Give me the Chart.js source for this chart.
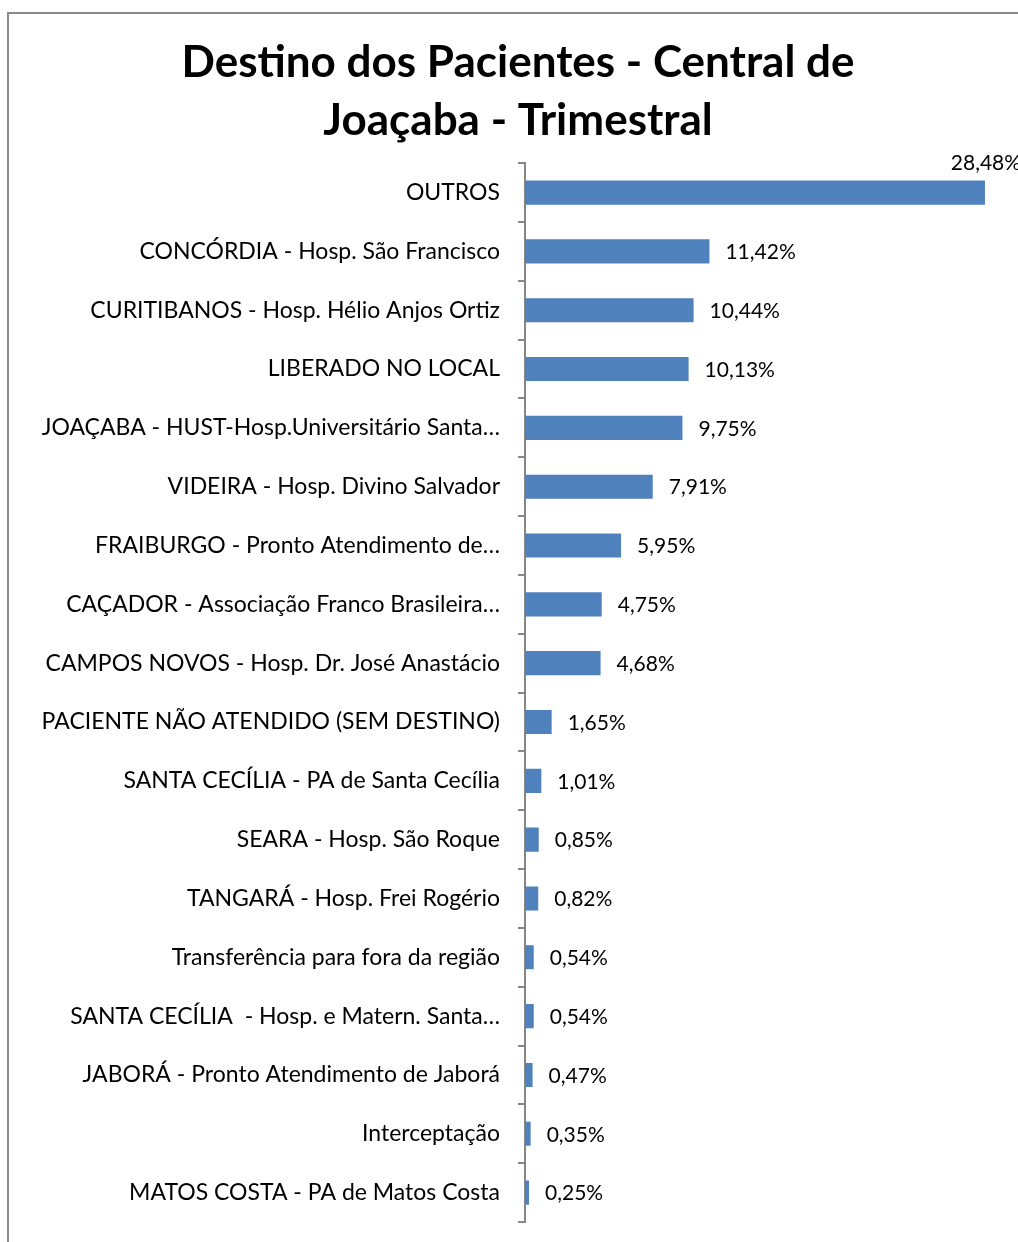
<!DOCTYPE html>
<html>
<head>
<meta charset="utf-8">
<script src="https://cdn.jsdelivr.net/npm/chart.js@4"></script>
<style>
  html, body { margin: 0; padding: 0; background: #fff; overflow: hidden; }
  #wrap { width: 1036px; height: 1242px; }
</style>
</head>
<body>
<div id="wrap"><canvas id="destinoChart" width="1036" height="1242"></canvas></div>
<script>
const destinos = [
    "OUTROS",
    "CONCÓRDIA - Hosp. São Francisco",
    "CURITIBANOS - Hosp. Hélio Anjos Ortiz",
    "LIBERADO NO LOCAL",
    "JOAÇABA - HUST-Hosp.Universitário Santa…",
    "VIDEIRA - Hosp. Divino Salvador",
    "FRAIBURGO - Pronto Atendimento de…",
    "CAÇADOR - Associação Franco Brasileira…",
    "CAMPOS NOVOS - Hosp. Dr. José Anastácio",
    "PACIENTE NÃO ATENDIDO (SEM DESTINO)",
    "SANTA CECÍLIA - PA de Santa Cecília",
    "SEARA - Hosp. São Roque",
    "TANGARÁ - Hosp. Frei Rogério",
    "Transferência para fora da região",
    "SANTA CECÍLIA  - Hosp. e Matern. Santa…",
    "JABORÁ - Pronto Atendimento de Jaborá",
    "Interceptação",
    "MATOS COSTA - PA de Matos Costa"
];
const percentuais = [28.48, 11.42, 10.44, 10.13, 9.75, 7.91, 5.95, 4.75, 4.68, 1.65, 1.01, 0.85, 0.82, 0.54, 0.54, 0.47, 0.35, 0.25];
const titulo = ["Destino dos Pacientes - Central de", "Joaçaba - Trimestral"];

const fmt = v => v.toFixed(2).replace(".", ",") + "%";

// frame around the chart (right/bottom fall outside the picture)
const framePlugin = {
    id: "frame",
    beforeDraw(chart) {
        const ctx = chart.ctx;
        ctx.save();
        ctx.strokeStyle = "#898989";
        ctx.lineWidth = 2;
        ctx.strokeRect(8, 13, 1020, 1250);
        ctx.restore();
    }
};

// value labels at the end of the bars
const valuePlugin = {
    id: "values",
    afterDatasetsDraw(chart) {
        const ctx = chart.ctx;
        const meta = chart.getDatasetMeta(0);
        ctx.save();
        ctx.font = "21px Lato";
        ctx.fillStyle = "#000";
        ctx.textBaseline = "middle";
        meta.data.forEach((bar, i) => {
            const txt = fmt(percentuais[i]);
            const w = ctx.measureText(txt).width;
            if (bar.x + 16 + w > chart.chartArea.right) {
                ctx.textAlign = "center";
                ctx.fillText(txt, bar.x + 1, bar.y - 29);
            } else {
                ctx.textAlign = "left";
                ctx.fillText(txt, bar.x + 16, bar.y + 1);
            }
        });
        ctx.restore();
    }
};

new Chart(document.getElementById("destinoChart"), {
    type: "bar",
    data: {
        labels: destinos,
        datasets: [{
            data: percentuais,
            backgroundColor: "#4f81bd",
            borderWidth: 0,
            barPercentage: 0.41,
            categoryPercentage: 1
        }]
    },
    options: {
        indexAxis: "y",
        responsive: false,
        animation: false,
        devicePixelRatio: 1,
        layout: { padding: { left: 0, right: 0, top: 0, bottom: 20 } },
        plugins: {
            legend: { display: false },
            tooltip: { enabled: false },
            title: {
                display: true,
                text: titulo,
                color: "#000",
                font: { family: "Lato", size: 44, weight: "bold", lineHeight: 1.32 },
                padding: { top: 34, bottom: 13 }
            }
        },
        scales: {
            x: { display: false, min: 0, max: 31.64 },
            y: {
                afterFit: s => { s.width = 525; s.paddingTop = 0; s.paddingBottom = 0; },
                border: { display: true, color: "#868686", width: 2 },
                grid: { drawOnChartArea: false, drawTicks: true, tickLength: 7, color: "#868686", lineWidth: 2, offset: true },
                ticks: { color: "#000", font: { family: "Lato", size: 23 }, padding: 18 }
            }
        }
    },
    plugins: [framePlugin, valuePlugin]
});
</script>
</body>
</html>
